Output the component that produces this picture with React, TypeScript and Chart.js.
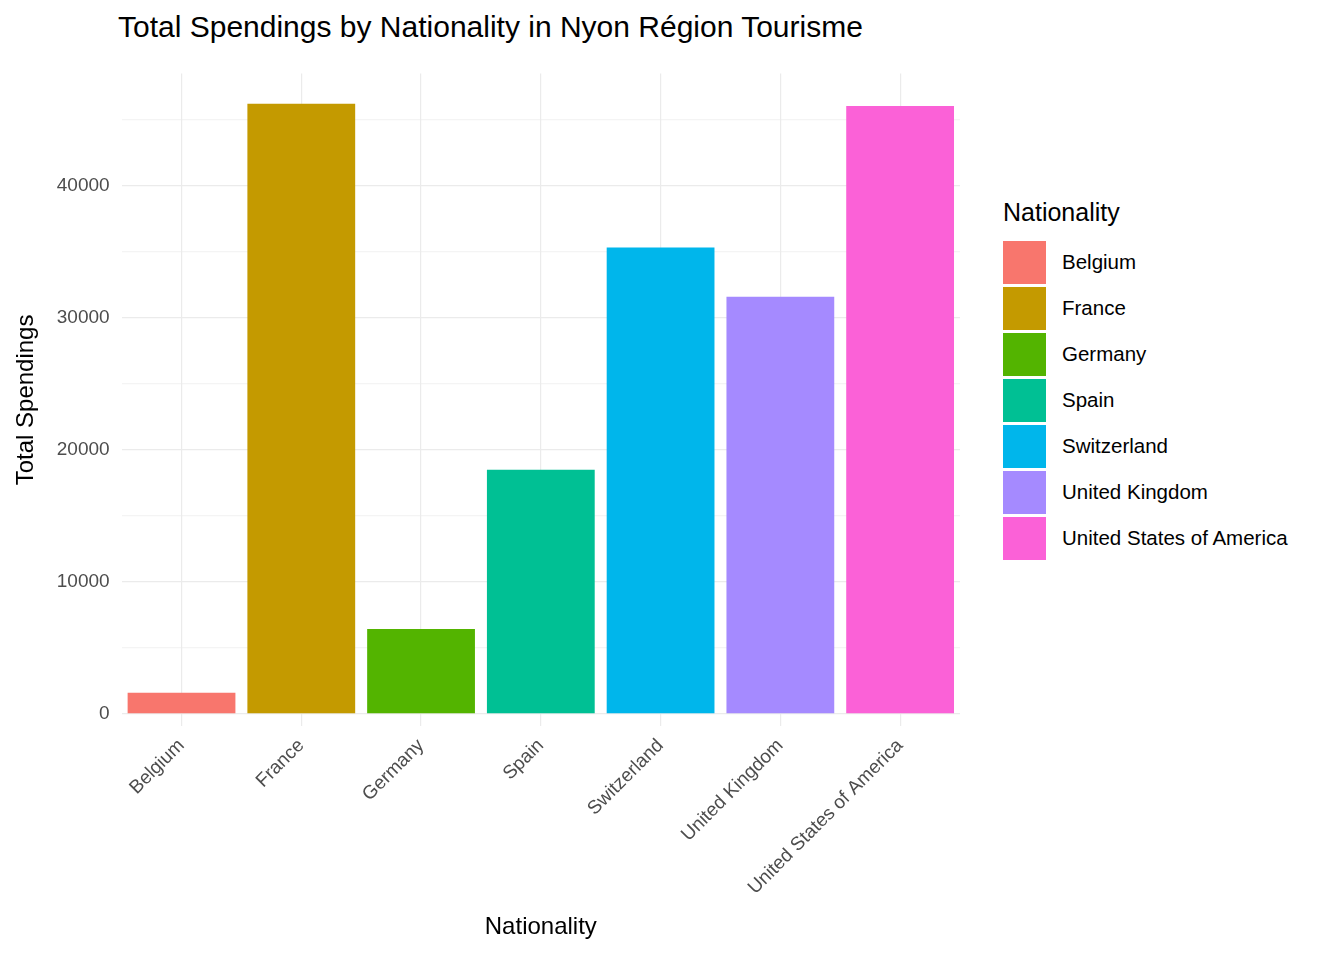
import { useEffect, useRef } from 'react';
import Chart from 'chart.js/auto';

const nationalities = ['Belgium', 'France', 'Germany', 'Spain', 'Switzerland', 'United Kingdom', 'United States of America'];
const spendings = [1600, 46200, 6430, 18490, 35320, 31590, 46030];
const colors = ['#F8766D', '#C49A00', '#53B400', '#00C094', '#00B6EB', '#A58AFF', '#FB61D7'];

const FONT = 'Arial, "Liberation Sans", sans-serif';

const App = () => {
  const chartRef = useRef<HTMLCanvasElement>(null);

  useEffect(() => {
    const ctx = chartRef.current?.getContext('2d');
    if (!ctx) return;

    const chart = new Chart(ctx, {
      type: 'bar',
      data: {
        labels: nationalities,
        datasets: [
          {
            data: spendings,
            backgroundColor: colors,
            barPercentage: 0.9,
            categoryPercentage: 1,
          },
        ],
      },
      options: {
        animation: false,
        responsive: false,
        plugins: { legend: { display: false }, tooltip: { enabled: false } },
        layout: { padding: { top: 12, right: 12, left: 8, bottom: 6 } },
        scales: {
          y: {
            min: -950,
            max: 48500,
            afterBuildTicks: (axis) => {
              const t = [];
              for (let v = 0; v <= 45000; v += 5000) t.push({ value: v });
              axis.ticks = t;
            },
            ticks: {
              color: '#4d4d4d',
              font: { size: 19, family: FONT },
              padding: 12,
              callback: (v) => (Number(v) % 10000 === 0 ? String(v) : ''),
            },
            grid: {
              color: (c) => (c.tick && c.tick.value % 10000 === 0 ? '#ebebeb' : '#f4f4f4'),
              lineWidth: 1.2,
              drawTicks: false,
            },
            border: { display: false },
            title: { display: true, text: 'Total Spendings', color: '#000', font: { size: 24, family: FONT }, padding: 4 },
          },
          x: {
            ticks: {
              color: '#4d4d4d',
              font: { size: 19, family: FONT },
              maxRotation: 45,
              minRotation: 45,
              padding: 8,
            },
            grid: { offset: false, color: '#ebebeb', lineWidth: 1.2, drawTicks: false },
            border: { display: false },
            title: { display: true, text: 'Nationality', color: '#000', font: { size: 24, family: FONT }, padding: { top: 6 } },
          },
        },
      },
    });

    return () => chart.destroy();
  }, []);

  return (
    <div style={{ position: 'absolute', left: 0, top: 0, width: 1344, height: 960, background: '#fff', fontFamily: FONT }}>
      <div style={{ position: 'absolute', top: 10, left: 118, fontSize: 30, color: '#000', whiteSpace: 'nowrap' }}>
        Total Spendings by Nationality in Nyon Région Tourisme
      </div>
      <canvas ref={chartRef} width={972} height={902} style={{ position: 'absolute', left: 0, top: 50 }} />
      <div style={{ position: 'absolute', left: 1003, top: 198 }}>
        <div style={{ fontSize: 25, color: '#000', marginBottom: 12 }}>Nationality</div>
        {nationalities.map((n, i) => (
          <div key={n} style={{ display: 'flex', alignItems: 'center', height: 46 }}>
            <span style={{ width: 43, height: 43, background: colors[i], display: 'inline-block', marginRight: 16 }} />
            <span style={{ fontSize: 20.5, color: '#000' }}>{n}</span>
          </div>
        ))}
      </div>
    </div>
  );
};

export default App;
